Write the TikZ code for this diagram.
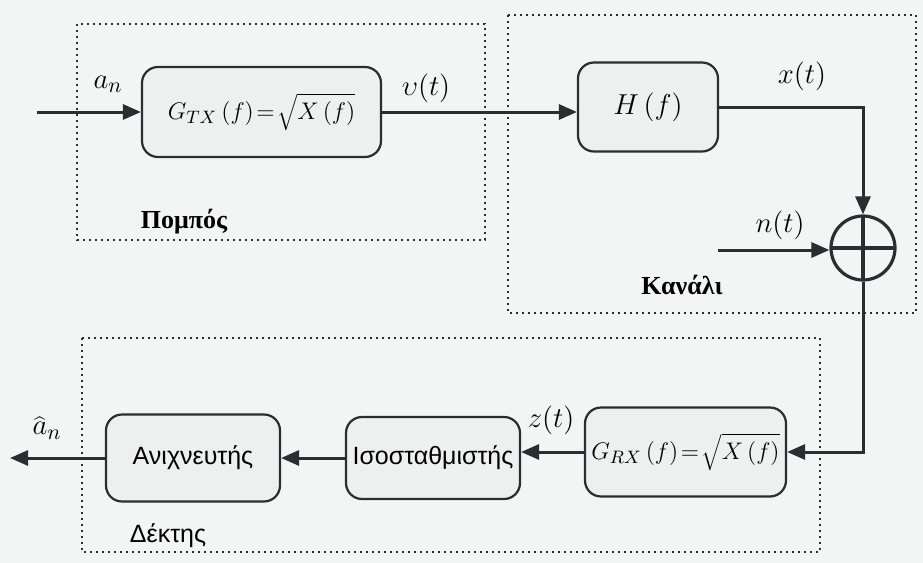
\documentclass[tikz,border=0pt]{standalone}
\usepackage{fontspec}
\usetikzlibrary{arrows.meta,calc}
\newfontfamily\grserif{Liberation Serif}
\newfontfamily\grsans{Liberation Sans}
\definecolor{bgc}{RGB}{243,244,244}
\definecolor{ink}{RGB}{45,45,48}
\definecolor{blk}{RGB}{238,239,239}
\begin{document}
\begin{tikzpicture}[x=0.5pt,y=-0.5pt,
  arr/.style={draw=ink,line width=1.5pt,-{Triangle[length=9pt,width=7.5pt]}},
  blockbox/.style={draw=ink,line width=1.1pt,rounded corners=8pt,fill=blk,inner sep=0pt,font=\fontsize{13}{15}\selectfont},
  groupbox/.style={draw=ink,line width=1pt,dash pattern=on 1pt off 2pt},
  lbl/.style={inner sep=0pt,font=\fontsize{15}{17}\selectfont},
  grp/.style={inner sep=0pt,font=\fontsize{13}{15}\selectfont\grserif\bfseries},
  grps/.style={inner sep=0pt,font=\fontsize{12.5}{14}\selectfont\grsans}]
\fill[bgc] (0,0) rectangle (923,563);
\useasboundingbox (0,0) rectangle (923,563);
% group boxes
\draw[groupbox] (77,24) rectangle (485,240);
\draw[groupbox] (508,15) rectangle (916,313);
\draw[groupbox] (82,338) rectangle (820,552);
% blocks
\node[blockbox,minimum width=119.5pt,minimum height=45pt] (TX) at (261.5,112) {$G_{TX}\,(f)\!=\!\sqrt{X\,(f)}$};
\node[blockbox,minimum width=70pt,minimum height=44.5pt,font=\fontsize{14}{16}\selectfont] (H) at (648,107) {$H\,(f)$};
\node[draw=ink,line width=1.6pt,circle,minimum size=32pt,inner sep=0pt,
  path picture={\draw[ink,line width=1.6pt] (path picture bounding box.north) -- (path picture bounding box.south) (path picture bounding box.west) -- (path picture bounding box.east);}] (sum) at (863,248) {};
\node[blockbox,minimum width=100.5pt,minimum height=44.5pt] (GRX) at (685.5,452) {$G_{RX}\,(f)\!=\!\sqrt{X\,(f)}$};
\node[blockbox,minimum width=87pt,minimum height=41pt,font=\fontsize{12.5}{14}\selectfont\grsans] (ISO) at (433,458) {Ισοσταθμιστής};
\node[blockbox,minimum width=87pt,minimum height=43.5pt,font=\fontsize{12.5}{14}\selectfont\grsans] (DET) at (193,458) {Ανιχνευτής};
% free ends
\coordinate (in) at (37,112);
\coordinate (nin) at (718,250);
\coordinate (out) at (10,458);
% connectors
\draw[arr] (in) -- (TX.west);
\draw[arr] (TX.east) -- (H.west |- TX.east);
\draw[arr] (H.east) -| (sum.north);
\draw[arr] (nin) -- (sum.west |- nin);
\draw[arr] (sum.south) |- (GRX.east);
\draw[arr] (GRX.west) -- (ISO.east |- GRX.west);
\draw[arr] (ISO.west) -- (DET.east);
\draw[arr] (DET.west) -- (out);
% labels
\node[lbl] (lan) at (108,84) {$a_n$};
\node[lbl] (lv) at (426,88) {$\upsilon(t)$};
\node[lbl] (lx) at (802,76) {$x(t)$};
\node[lbl] (ln) at (780,225) {$n(t)$};
\node[lbl] (lz) at (551,420) {$z(t)$};
\node[lbl] (lah) at (47,428) {$\widehat{a}_n$};
\node[grp] (gtx) at (184,222) {Πομπός};
\node[grp] (gch) at (682,285) {Κανάλι};
\node[grps] (grx) at (168,536) {Δέκτης};
\end{tikzpicture}
\end{document}
